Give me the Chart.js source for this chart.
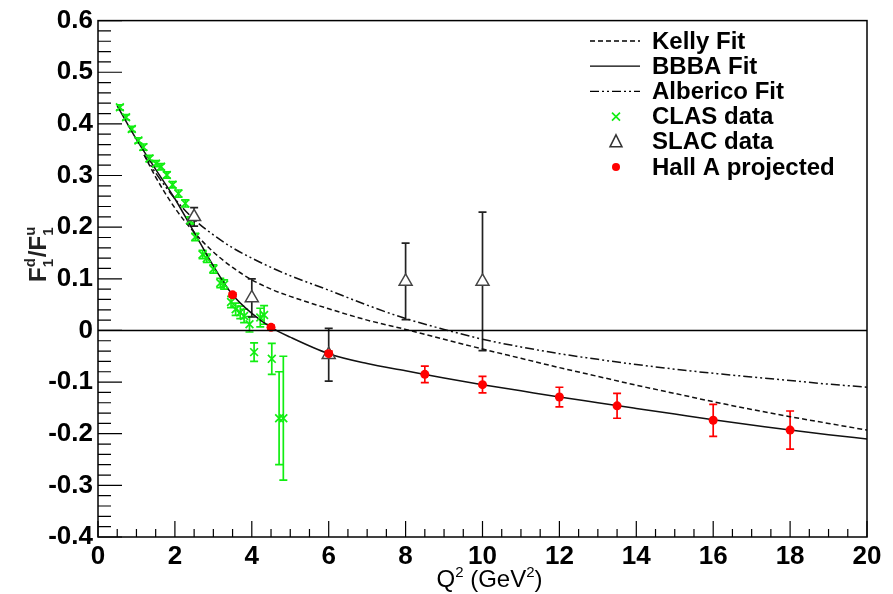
<!DOCTYPE html>
<html>
<head>
<meta charset="utf-8">
<script src="https://cdn.jsdelivr.net/npm/chart.js@4.4.0/dist/chart.umd.min.js"></script>
<style>
  html, body { margin: 0; padding: 0; background: #fff; }
  #wrap { width: 893px; height: 594px; }
</style>
</head>
<body>
<div id="wrap"><canvas id="myChart" width="893" height="594"></canvas></div>
<script>
// values: Q^2 in GeV^2, ratio F1d/F1u
const clasQ2    = [0.57, 0.73, 0.88, 1.05, 1.18, 1.34, 1.51, 1.64, 1.79, 1.94, 2.09, 2.27, 2.40, 2.53, 2.72, 2.83, 3.00, 3.18, 3.28, 3.46, 3.58, 3.70, 3.80, 3.94, 4.06, 4.22, 4.32, 4.52, 4.71, 4.82];
const clasRatio = [0.432, 0.413, 0.390, 0.368, 0.355, 0.333, 0.323, 0.317, 0.301, 0.282, 0.265, 0.246, 0.213, 0.181, 0.147, 0.140, 0.119, 0.092, 0.089, 0.055, 0.041, 0.035, 0.028, 0.012, -0.042, 0.025, 0.030, -0.055, -0.170, -0.170];
const clasErr   = [0.005, 0.005, 0.005, 0.005, 0.006, 0.006, 0.006, 0.006, 0.006, 0.006, 0.007, 0.007, 0.007, 0.007, 0.008, 0.008, 0.008, 0.009, 0.009, 0.011, 0.012, 0.012, 0.013, 0.015, 0.018, 0.018, 0.018, 0.030, 0.090, 0.120];

const slacQ2    = [2.5, 4, 6, 8, 10];
const slacRatio = [0.220, 0.063, -0.047, 0.095, 0.095];
const slacErr   = [0.018, 0.037, 0.051, 0.074, 0.134];

const hallQ2    = [3.5, 4.5, 6, 8.5, 10, 12, 13.5, 16, 18];
const hallRatio = [0.069, 0.006, -0.045, -0.085, -0.105, -0.129, -0.146, -0.174, -0.193];
const hallErr   = [0.004, 0.004, 0.005, 0.016, 0.016, 0.019, 0.024, 0.031, 0.037];

const bbbaQ2    = [0.5, 1.0, 1.5, 2.0, 2.5, 3.0, 3.5, 4.0, 4.5, 5, 6, 7, 8, 9, 10, 11, 12, 13, 14, 15, 16, 17, 18, 19, 20];
const bbbaRatio = [0.435, 0.370, 0.312, 0.255, 0.190, 0.125, 0.069, 0.033, 0.006, -0.013, -0.045, -0.064, -0.078, -0.092, -0.105, -0.117, -0.129, -0.140, -0.151, -0.162, -0.173, -0.183, -0.193, -0.202, -0.210];

const kellyQ2    = [1.2, 1.5, 2.0, 2.5, 3.0, 3.5, 4.0, 4.5, 5, 6, 7, 8, 9, 10, 11, 12, 13, 14, 15, 16, 17, 18, 19, 20];
const kellyRatio = [0.340, 0.297, 0.237, 0.190, 0.152, 0.122, 0.098, 0.080, 0.066, 0.042, 0.020, 0.002, -0.017, -0.036, -0.054, -0.072, -0.089, -0.106, -0.122, -0.138, -0.153, -0.167, -0.180, -0.193];

const albericoQ2    = [1.2, 1.5, 2.0, 2.5, 3.0, 3.5, 4.0, 4.5, 5, 6, 7, 8, 9, 10, 11, 12, 13, 14, 15, 16, 17, 18, 19, 20];
const albericoRatio = [0.340, 0.305, 0.255, 0.215, 0.185, 0.160, 0.140, 0.122, 0.106, 0.078, 0.049, 0.023, 0.002, -0.017, -0.032, -0.045, -0.056, -0.066, -0.075, -0.083, -0.090, -0.097, -0.104, -0.110];

const xTicks = [0, 2, 4, 6, 8, 10, 12, 14, 16, 18, 20];
const yTicks = [-0.4, -0.3, -0.2, -0.1, 0, 0.1, 0.2, 0.3, 0.4, 0.5, 0.6];
const legendLabels = ['Kelly Fit', 'BBBA Fit', 'Alberico Fit', 'CLAS data', 'SLAC data', 'Hall A projected'];

const FONT = '"Liberation Sans", Arial, Helvetica, sans-serif';
const GREEN = '#11ee11';
const toPoints = (xs, ys) => xs.map((x, i) => ({ x: x, y: ys[i] }));

// vertical error bars with small caps, drawn under the markers
const errorBars = {
    id: 'errorBars',
    beforeDatasetsDraw(chart) {
        const ctx = chart.ctx, yScale = chart.scales.y, area = chart.chartArea;
        ctx.save();
        ctx.beginPath();
        ctx.rect(area.left, area.top, area.right - area.left, area.bottom - area.top);
        ctx.clip();
        chart.data.datasets.forEach((ds, i) => {
            if (!ds.errors) return;
            const meta = chart.getDatasetMeta(i);
            ctx.strokeStyle = ds.errorColor;
            ctx.lineWidth = 1.7;
            meta.data.forEach((pt, j) => {
                const v = ds.data[j].y, e = ds.errors[j];
                const y1 = yScale.getPixelForValue(v + e), y2 = yScale.getPixelForValue(v - e);
                ctx.beginPath();
                ctx.moveTo(pt.x, y1); ctx.lineTo(pt.x, y2);
                ctx.moveTo(pt.x - 4, y1); ctx.lineTo(pt.x + 4, y1);
                ctx.moveTo(pt.x - 4, y2); ctx.lineTo(pt.x + 4, y2);
                ctx.stroke();
            });
        });
        ctx.restore();
    }
};

// ROOT style frame: box, inward ticks, zero line, axis titles
const frame = {
    id: 'frame',
    afterDatasetsDraw(chart) {
        const ctx = chart.ctx, a = chart.chartArea;
        const xs = chart.scales.x, ys = chart.scales.y;
        ctx.save();
        ctx.strokeStyle = '#000';
        ctx.lineWidth = 1.5;
        const y0 = ys.getPixelForValue(0);
        ctx.beginPath(); ctx.moveTo(a.left, y0); ctx.lineTo(a.right, y0); ctx.stroke();
        ctx.strokeRect(a.left, a.top, a.right - a.left, a.bottom - a.top);
        ctx.lineWidth = 1.2;
        ctx.beginPath();
        for (let k = 0; k <= 50; k++) {
            const py = ys.getPixelForValue(-0.4 + k * 0.02);
            const len = k % 5 === 0 ? 24 : 13;
            ctx.moveTo(a.left, py); ctx.lineTo(a.left + len, py);
        }
        for (let k = 0; k <= 40; k++) {
            const px = xs.getPixelForValue(k * 0.5);
            const len = k % 4 === 0 ? 16 : 8;
            ctx.moveTo(px, a.bottom); ctx.lineTo(px, a.bottom - len);
        }
        ctx.stroke();

        // x title Q^2 (GeV^2)
        ctx.fillStyle = '#000';
        ctx.textBaseline = 'alphabetic';
        ctx.textAlign = 'left';
        const run = (parts, x, y) => {
            parts.forEach(p => {
                ctx.font = p[1] + 'px ' + FONT;
                ctx.fillText(p[0], x, y + p[2]);
                x += ctx.measureText(p[0]).width;
            });
        };
        const xParts = [['Q', 24, 0], ['2', 15, -10], [' (GeV', 24, 0], ['2', 15, -10], [')', 24, 0]];
        let wx = 0;
        xParts.forEach(p => { ctx.font = p[1] + 'px ' + FONT; wx += ctx.measureText(p[0]).width; });
        run(xParts, (a.left + a.right) / 2 + 7 - wx / 2, 587);

        // y title F1d/F1u, rotated
        ctx.translate(46, 282);
        ctx.rotate(-Math.PI / 2);
        ctx.fillStyle = '#222';
        let cx = 0;
        const part = (txt, size, dy) => {
            ctx.font = 'bold ' + size + 'px ' + FONT;
            ctx.fillText(txt, cx, dy);
            return ctx.measureText(txt).width;
        };
        cx += part('F', 24, 0);
        const w1 = part('d', 15, -11); part('1', 15, 7); cx += w1 + 1;
        cx += part('/F', 24, 0);
        part('u', 15, -11); part('1', 15, 7);
        ctx.restore();
    }
};

function drawMarker(ctx, style, x, y) {
    ctx.save();
    if (style === 'crossRot') {
        ctx.strokeStyle = GREEN; ctx.lineWidth = 1.6;
        ctx.beginPath();
        ctx.moveTo(x - 4, y - 4); ctx.lineTo(x + 4, y + 4);
        ctx.moveTo(x - 4, y + 4); ctx.lineTo(x + 4, y - 4);
        ctx.stroke();
    } else if (style === 'triangle') {
        ctx.strokeStyle = '#333'; ctx.lineWidth = 1.5; ctx.fillStyle = '#fff';
        ctx.beginPath();
        ctx.moveTo(x, y - 7); ctx.lineTo(x + 6, y + 5); ctx.lineTo(x - 6, y + 5); ctx.closePath();
        ctx.fill(); ctx.stroke();
    } else {
        ctx.fillStyle = '#ff0000';
        ctx.beginPath(); ctx.arc(x, y, 4, 0, Math.PI * 2); ctx.fill();
    }
    ctx.restore();
}

const rootLegend = {
    id: 'rootLegend',
    afterDraw(chart) {
        const ctx = chart.ctx;
        ctx.save();
        ctx.font = 'bold 24px ' + FONT;
        ctx.textBaseline = 'middle';
        ctx.textAlign = 'left';
        legendLabels.forEach((label, i) => {
            const ds = chart.data.datasets.find(d => d.label === label);
            const y = 41 + i * 25.2;
            if (ds.showLine) {
                ctx.save();
                ctx.strokeStyle = '#000';
                ctx.lineWidth = 1.3;
                ctx.setLineDash(ds.borderDash || []);
                ctx.beginPath(); ctx.moveTo(590, y); ctx.lineTo(640, y); ctx.stroke();
                ctx.restore();
            } else {
                drawMarker(ctx, ds.pointStyle, 616, y);
            }
            ctx.fillStyle = '#000';
            ctx.fillText(label, 652, y + 1);
        });
        ctx.restore();
    }
};

const curve = (label, xs, ys, dash, order) => ({
    label: label,
    type: 'line',
    data: toPoints(xs, ys),
    showLine: true,
    borderColor: '#111',
    borderWidth: 1.5,
    borderDash: dash,
    pointRadius: 0,
    cubicInterpolationMode: 'monotone',
    order: order
});

const config = {
    type: 'scatter',
    data: {
        datasets: [
            curve('Kelly Fit', kellyQ2, kellyRatio, [5, 3], 5),
            curve('BBBA Fit', bbbaQ2, bbbaRatio, [], 4),
            curve('Alberico Fit', albericoQ2, albericoRatio, [9, 3, 2, 3, 2, 3], 6),
            {
                label: 'CLAS data',
                data: toPoints(clasQ2, clasRatio),
                errors: clasErr,
                errorColor: GREEN,
                pointStyle: 'crossRot',
                pointRadius: 5.5,
                borderColor: GREEN,
                borderWidth: 1.7,
                order: 2
            },
            {
                label: 'SLAC data',
                data: toPoints(slacQ2, slacRatio),
                errors: slacErr,
                errorColor: '#222',
                pointStyle: 'triangle',
                pointRadius: 7.5,
                backgroundColor: '#fff',
                borderColor: '#444',
                borderWidth: 1.5,
                order: 1
            },
            {
                label: 'Hall A projected',
                data: toPoints(hallQ2, hallRatio),
                errors: hallErr,
                errorColor: '#ff0000',
                pointStyle: 'circle',
                pointRadius: 4.5,
                backgroundColor: '#ff0000',
                borderColor: '#ff0000',
                borderWidth: 0,
                order: 0
            }
        ]
    },
    options: {
        responsive: false,
        devicePixelRatio: 1,
        animation: false,
        layout: { padding: { top: 16, right: 26, left: 0, bottom: 0 } },
        plugins: { legend: { display: false }, tooltip: { enabled: false } },
        scales: {
            x: {
                type: 'linear', min: 0, max: 20,
                afterBuildTicks: (s) => { s.ticks = xTicks.map(v => ({ value: v })); },
                afterFit: (s) => { s.height = 57; },
                grid: { display: false, drawTicks: false },
                border: { display: false },
                ticks: { color: '#000', padding: 4, maxRotation: 0, font: { family: FONT, size: 26, weight: 'bold' } }
            },
            y: {
                type: 'linear', min: -0.4, max: 0.6,
                afterBuildTicks: (s) => { s.ticks = yTicks.map(v => ({ value: v })); },
                afterFit: (s) => { s.width = 98; },
                grid: { display: false, drawTicks: false },
                border: { display: false },
                ticks: {
                    color: '#000', padding: 5,
                    font: { family: FONT, size: 26, weight: 'bold' },
                    callback: (v) => { const r = Math.round(v * 10) / 10; return r === 0 ? '0' : r.toFixed(1); }
                }
            }
        }
    },
    plugins: [errorBars, frame, rootLegend]
};

const myChart = new Chart(document.getElementById('myChart'), config);
</script>
</body>
</html>
